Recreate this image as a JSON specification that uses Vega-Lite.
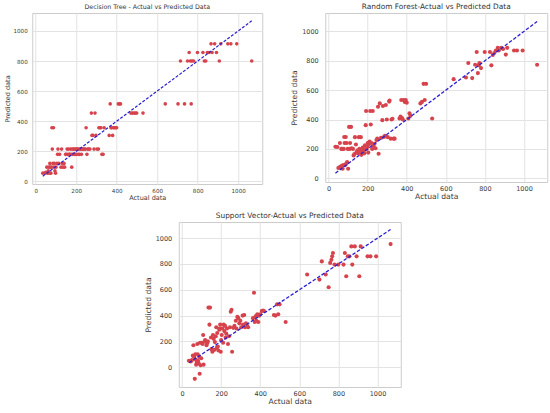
{
  "$schema": "https://vega.github.io/schema/vega-lite/v6.json",
  "background": "white",
  "padding": {"left": 3, "top": 2, "right": 2, "bottom": 2},
  "datasets": {
    "pts": [
      {"actual": 35, "dt": 55, "rf": 215, "sv": 50},
      {"actual": 45, "dt": 55, "rf": 213, "sv": 45},
      {"actual": 50, "dt": 60, "rf": 70, "sv": 55},
      {"actual": 55, "dt": 95, "rf": 75, "sv": 90},
      {"actual": 58, "dt": 55, "rf": 240, "sv": 170},
      {"actual": 62, "dt": 70, "rf": 80, "sv": 80},
      {"actual": 65, "dt": 95, "rf": 200, "sv": -90},
      {"actual": 68, "dt": 55, "rf": 85, "sv": 100},
      {"actual": 70, "dt": 120, "rf": 200, "sv": 60},
      {"actual": 72, "dt": 95, "rf": 65, "sv": 20},
      {"actual": 75, "dt": 55, "rf": 90, "sv": 40},
      {"actual": 78, "dt": 95, "rf": 200, "sv": 180},
      {"actual": 80, "dt": 357, "rf": 281, "sv": 100},
      {"actual": 82, "dt": 215, "rf": 240, "sv": 50},
      {"actual": 85, "dt": 120, "rf": 90, "sv": 30},
      {"actual": 88, "dt": 357, "rf": 281, "sv": 80},
      {"actual": 90, "dt": 95, "rf": 100, "sv": -50},
      {"actual": 92, "dt": 120, "rf": 240, "sv": 190},
      {"actual": 95, "dt": 70, "rf": 110, "sv": 15},
      {"actual": 98, "dt": 55, "rf": 200, "sv": 70},
      {"actual": 100, "dt": 95, "rf": 65, "sv": 190},
      {"actual": 105, "dt": 120, "rf": 350, "sv": 180},
      {"actual": 108, "dt": 180, "rf": 200, "sv": 250},
      {"actual": 110, "dt": 215, "rf": 240, "sv": 20},
      {"actual": 115, "dt": 120, "rf": 350, "sv": 200},
      {"actual": 118, "dt": 180, "rf": 205, "sv": 210},
      {"actual": 125, "dt": 95, "rf": 200, "sv": 170},
      {"actual": 128, "dt": 215, "rf": 155, "sv": 185},
      {"actual": 132, "dt": 120, "rf": 165, "sv": 200},
      {"actual": 135, "dt": 95, "rf": 280, "sv": 462},
      {"actual": 140, "dt": 120, "rf": 230, "sv": 330},
      {"actual": 143, "dt": 95, "rf": 178, "sv": 462},
      {"actual": 148, "dt": 180, "rf": 190, "sv": 230},
      {"actual": 150, "dt": 180, "rf": 170, "sv": 140},
      {"actual": 155, "dt": 215, "rf": 280, "sv": 120},
      {"actual": 158, "dt": 180, "rf": 200, "sv": 250},
      {"actual": 162, "dt": 215, "rf": 175, "sv": 220},
      {"actual": 165, "dt": 180, "rf": 280, "sv": 135},
      {"actual": 168, "dt": 180, "rf": 160, "sv": 195},
      {"actual": 172, "dt": 215, "rf": 190, "sv": 240},
      {"actual": 175, "dt": 180, "rf": 210, "sv": 310},
      {"actual": 178, "dt": 95, "rf": 180, "sv": 150},
      {"actual": 180, "dt": 215, "rf": 195, "sv": 265},
      {"actual": 183, "dt": 180, "rf": 170, "sv": 160},
      {"actual": 186, "dt": 215, "rf": 225, "sv": 130},
      {"actual": 190, "dt": 180, "rf": 362, "sv": 290},
      {"actual": 192, "dt": 215, "rf": 458, "sv": 300},
      {"actual": 195, "dt": 180, "rf": 200, "sv": 330},
      {"actual": 198, "dt": 215, "rf": 215, "sv": 120},
      {"actual": 200, "dt": 180, "rf": 240, "sv": 210},
      {"actual": 203, "dt": 215, "rf": 175, "sv": 250},
      {"actual": 206, "dt": 215, "rf": 230, "sv": 300},
      {"actual": 210, "dt": 180, "rf": 250, "sv": 190},
      {"actual": 213, "dt": 215, "rf": 458, "sv": 330},
      {"actual": 216, "dt": 180, "rf": 366, "sv": 280},
      {"actual": 220, "dt": 215, "rf": 240, "sv": 320},
      {"actual": 223, "dt": 215, "rf": 200, "sv": 230},
      {"actual": 226, "dt": 180, "rf": 458, "sv": 260},
      {"actual": 230, "dt": 215, "rf": 220, "sv": 300},
      {"actual": 235, "dt": 215, "rf": 235, "sv": 180},
      {"actual": 240, "dt": 215, "rf": 205, "sv": 240},
      {"actual": 245, "dt": 215, "rf": 260, "sv": 310},
      {"actual": 249, "dt": 357, "rf": 270, "sv": 430},
      {"actual": 253, "dt": 180, "rf": 487, "sv": 445},
      {"actual": 256, "dt": 215, "rf": 167, "sv": 120},
      {"actual": 262, "dt": 215, "rf": 510, "sv": 305},
      {"actual": 268, "dt": 215, "rf": 275, "sv": 320},
      {"actual": 275, "dt": 454, "rf": 396, "sv": 360},
      {"actual": 278, "dt": 306, "rf": 492, "sv": 300},
      {"actual": 283, "dt": 306, "rf": 281, "sv": 390},
      {"actual": 288, "dt": 215, "rf": 290, "sv": 380},
      {"actual": 293, "dt": 454, "rf": 499, "sv": 340},
      {"actual": 298, "dt": 306, "rf": 400, "sv": 360},
      {"actual": 303, "dt": 215, "rf": 280, "sv": 310},
      {"actual": 310, "dt": 215, "rf": 522, "sv": 400},
      {"actual": 312, "dt": 357, "rf": 530, "sv": 330},
      {"actual": 318, "dt": 357, "rf": 270, "sv": 405},
      {"actual": 322, "dt": 357, "rf": 400, "sv": 310},
      {"actual": 327, "dt": 180, "rf": 405, "sv": 340},
      {"actual": 333, "dt": 180, "rf": 270, "sv": 320},
      {"actual": 338, "dt": 357, "rf": 270, "sv": 310},
      {"actual": 363, "dt": 306, "rf": 407, "sv": 380},
      {"actual": 368, "dt": 515, "rf": 420, "sv": 577},
      {"actual": 372, "dt": 357, "rf": 533, "sv": 350},
      {"actual": 376, "dt": 357, "rf": 410, "sv": 395},
      {"actual": 380, "dt": 306, "rf": 400, "sv": 360},
      {"actual": 385, "dt": 357, "rf": 533, "sv": 410},
      {"actual": 390, "dt": 357, "rf": 520, "sv": 350},
      {"actual": 395, "dt": 357, "rf": 533, "sv": 400},
      {"actual": 400, "dt": 357, "rf": 515, "sv": 410},
      {"actual": 408, "dt": 515, "rf": 407, "sv": 436},
      {"actual": 414, "dt": 515, "rf": 442, "sv": 440},
      {"actual": 419, "dt": 515, "rf": 425, "sv": 436},
      {"actual": 470, "dt": 454, "rf": 510, "sv": 405},
      {"actual": 478, "dt": 454, "rf": 520, "sv": 400},
      {"actual": 486, "dt": 454, "rf": 643, "sv": 487},
      {"actual": 492, "dt": 454, "rf": 533, "sv": 410},
      {"actual": 499, "dt": 454, "rf": 643, "sv": 487},
      {"actual": 530, "dt": 454, "rf": 407, "sv": 350},
      {"actual": 640, "dt": 515, "rf": 675, "sv": 718},
      {"actual": 703, "dt": 515, "rf": 686, "sv": 679},
      {"actual": 715, "dt": 800, "rf": 785, "sv": 820},
      {"actual": 735, "dt": 515, "rf": 682, "sv": 718},
      {"actual": 750, "dt": 800, "rf": 773, "sv": 620},
      {"actual": 758, "dt": 857, "rf": 860, "sv": 808},
      {"actual": 764, "dt": 800, "rf": 716, "sv": 833},
      {"actual": 768, "dt": 515, "rf": 770, "sv": 859},
      {"actual": 772, "dt": 800, "rf": 785, "sv": 885},
      {"actual": 780, "dt": 800, "rf": 750, "sv": 795},
      {"actual": 799, "dt": 857, "rf": 860, "sv": 795},
      {"actual": 826, "dt": 857, "rf": 860, "sv": 795},
      {"actual": 833, "dt": 800, "rf": 769, "sv": 885},
      {"actual": 840, "dt": 800, "rf": 840, "sv": 705},
      {"actual": 848, "dt": 857, "rf": 853, "sv": 859},
      {"actual": 856, "dt": 857, "rf": 870, "sv": 859},
      {"actual": 866, "dt": 914, "rf": 888, "sv": 936},
      {"actual": 871, "dt": 857, "rf": 870, "sv": 795},
      {"actual": 884, "dt": 914, "rf": 888, "sv": 936},
      {"actual": 893, "dt": 857, "rf": 880, "sv": 859},
      {"actual": 907, "dt": 800, "rf": 842, "sv": 705},
      {"actual": 914, "dt": 914, "rf": 888, "sv": 936},
      {"actual": 949, "dt": 914, "rf": 870, "sv": 859},
      {"actual": 964, "dt": 914, "rf": 870, "sv": 859},
      {"actual": 993, "dt": 914, "rf": 870, "sv": 859},
      {"actual": 1067, "dt": 800, "rf": 773, "sv": 954}
    ],
    "ideal": [
      {"actual": 35, "pred": 35},
      {"actual": 1067, "pred": 1067}
    ]
  },
  "config": {
    "font": "DejaVu Sans",
    "view": {"stroke": "#cccccc", "strokeWidth": 1},
    "axis": {
      "domain": false,
      "ticks": false,
      "grid": true,
      "gridColor": "#e3e3e3",
      "gridWidth": 1,
      "labelColor": "#3a3a3a",
      "titleColor": "#3a3a3a",
      "titleFontWeight": "normal",
      "labelFont": "DejaVu Sans",
      "titleFont": "DejaVu Sans",
      "labelOverlap": false,
      "labelFlush": false,
      "tickCount": 12,
      "format": "d"
    },
    "title": {"font": "DejaVu Sans", "fontWeight": "normal", "color": "#333333"}
  },
  "center": true,
  "spacing": 9,
  "vconcat": [
    {
      "hconcat": [
        {
          "width": 230,
          "height": 171,
          "title": {"text": "Decision Tree - Actual vs Predicted Data", "fontSize": 6.3, "offset": 3},
          "layer": [
            {
              "data": {"name": "pts"},
              "mark": {"type": "circle", "size": 13, "color": "#d6434c", "opacity": 1},
              "encoding": {
                "x": {"field": "actual", "type": "quantitative", "scale": {"domain": [-17, 1119], "nice": false, "zero": false},
                      "axis": {"values": [0, 200, 400, 600, 800, 1000], "tickCount": 12, "title": "Actual data", "labelFontSize": 5.6, "titleFontSize": 6.5, "labelPadding": 4, "titlePadding": 1}},
                "y": {"field": "dt", "type": "quantitative", "scale": {"domain": [-17, 1119], "nice": false, "zero": false},
                      "axis": {"values": [0, 200, 400, 600, 800, 1000], "tickCount": 12, "title": "Predicted data", "labelFontSize": 5.6, "titleFontSize": 6.5, "labelPadding": 5, "titlePadding": 3}}
              }
            },
            {
              "data": {"name": "ideal"},
              "mark": {"type": "line", "color": "#2a1fd0", "strokeWidth": 1.2, "strokeDash": [3, 1.6]},
              "encoding": {
                "x": {"field": "actual", "type": "quantitative"},
                "y": {"field": "pred", "type": "quantitative"}
              }
            }
          ]
        },
        {
          "width": 222,
          "height": 169,
          "title": {"text": "Random Forest-Actual vs Predicted Data", "fontSize": 7.4, "offset": 3},
          "layer": [
            {
              "data": {"name": "pts"},
              "mark": {"type": "circle", "size": 17, "color": "#d6434c", "opacity": 1},
              "encoding": {
                "x": {"field": "actual", "type": "quantitative", "scale": {"domain": [-17, 1119], "nice": false, "zero": false},
                      "axis": {"values": [0, 200, 400, 600, 800, 1000], "tickCount": 12, "title": "Actual data", "labelFontSize": 6.5, "titleFontSize": 7.6, "labelPadding": 3, "titlePadding": 1}},
                "y": {"field": "rf", "type": "quantitative", "scale": {"domain": [-25, 1125], "nice": false, "zero": false},
                      "axis": {"values": [0, 200, 400, 600, 800, 1000], "tickCount": 12, "title": "Predicted data", "labelFontSize": 6.5, "titleFontSize": 7.6, "labelPadding": 7, "titlePadding": 3}}
              }
            },
            {
              "data": {"name": "ideal"},
              "mark": {"type": "line", "color": "#2a1fd0", "strokeWidth": 1.3, "strokeDash": [3.5, 1.8]},
              "encoding": {
                "x": {"field": "actual", "type": "quantitative"},
                "y": {"field": "pred", "type": "quantitative"}
              }
            }
          ]
        }
      ],
      "spacing": 26
    },
    {
      "width": 222,
      "height": 165,
      "title": {"text": "Support Vector-Actual vs Predicted Data", "fontSize": 7.4, "offset": 3},
      "layer": [
        {
          "data": {"name": "pts"},
          "mark": {"type": "circle", "size": 17, "color": "#d6434c", "opacity": 1},
          "encoding": {
            "x": {"field": "actual", "type": "quantitative", "scale": {"domain": [-17, 1119], "nice": false, "zero": false},
                  "axis": {"values": [0, 200, 400, 600, 800, 1000], "tickCount": 12, "title": "Actual data", "labelFontSize": 6.5, "titleFontSize": 7.6, "labelPadding": 3, "titlePadding": 1}},
            "y": {"field": "sv", "type": "quantitative", "scale": {"domain": [-153, 1125], "nice": false, "zero": false},
                  "axis": {"values": [0, 200, 400, 600, 800, 1000], "tickCount": 12, "title": "Predicted data", "labelFontSize": 6.5, "titleFontSize": 7.6, "labelPadding": 7, "titlePadding": 3}}
          }
        },
        {
          "data": {"name": "ideal"},
          "mark": {"type": "line", "color": "#2a1fd0", "strokeWidth": 1.3, "strokeDash": [3.5, 1.8]},
          "encoding": {
            "x": {"field": "actual", "type": "quantitative"},
            "y": {"field": "pred", "type": "quantitative"}
          }
        }
      ]
    }
  ]
}
